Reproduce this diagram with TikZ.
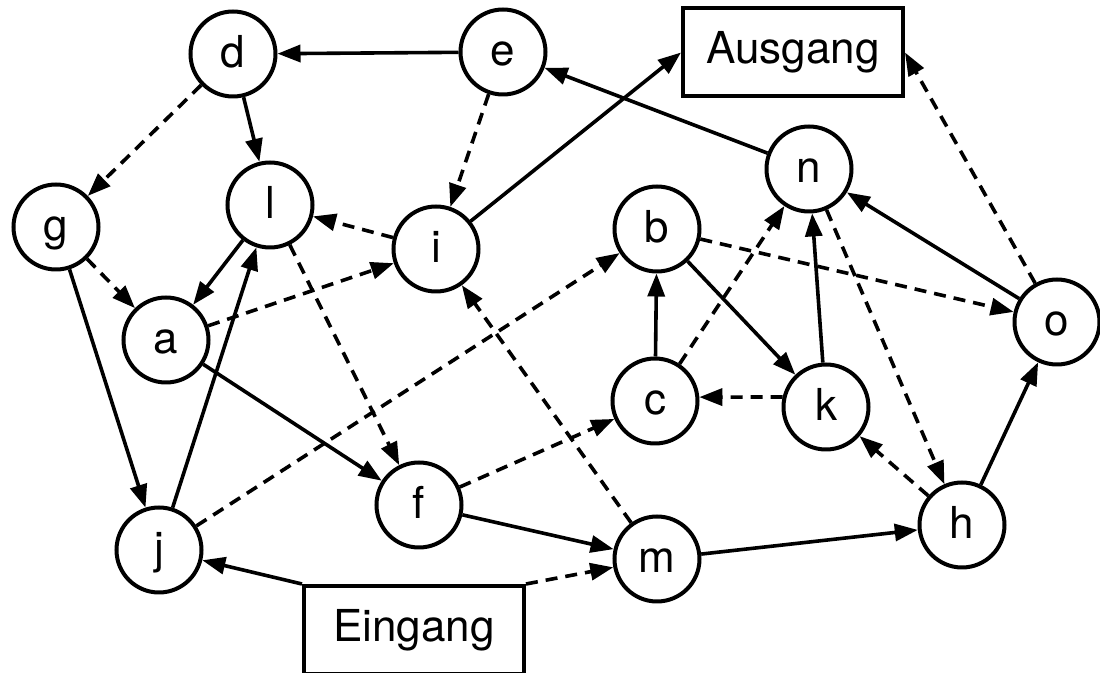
\documentclass[tikz,border=0pt]{standalone}
\usepackage{fontspec}
\setmainfont{TeX Gyre Heros}
\usetikzlibrary{arrows.meta}
\begin{document}
\begin{tikzpicture}[x=0.5pt,y=-0.5pt,
  every node/.style={font=\fontsize{22}{26}\selectfont},
  state/.style={circle,draw,line width=2pt,minimum size=42.5pt,inner sep=0pt,text height=16pt,text depth=2pt},
  port/.style={rectangle,draw,line width=2pt,minimum width=110pt,minimum height=44pt,inner sep=0pt},
  conn/.style={line width=1.8pt,-{Triangle[length=11.5pt,width=8.5pt]}},
  dconn/.style={conn,dash pattern=on 6pt off 4pt}]
\useasboundingbox (0,0) rectangle (1100,673);
% nodes
\node[state] (d) at (233,54) {d};
\node[state] (e) at (503,52) {e};
\node[state] (g) at (56,227) {g};
\node[state] (l) at (270,205) {l};
\node[state] (i) at (436,249) {i};
\node[state] (b) at (657,229) {b};
\node[state] (n) at (809,169) {n};
\node[state] (o) at (1057,322) {o};
\node[state] (a) at (166,340) {a};
\node[state] (c) at (655,401) {c};
\node[state] (k) at (826,407) {k};
\node[state] (j) at (159,550) {j};
\node[state] (f) at (419,505) {f};
\node[state] (m) at (657,559) {m};
\node[state] (h) at (962,525) {h};
\node[port] (aus) at (793,52.5) {Ausgang};
\node[port] (ein) at (414,630) {Eingang};
% solid connectors
\draw[conn] (e) -- (d);
\draw[conn] (d) -- (l);
\draw[conn] (i) -- (aus.west);
\draw[conn] (n) -- (e);
\draw[conn] (g) -- (j);
\draw[conn] (l) -- (a);
\draw[conn] (a) -- (f);
\draw[conn] (j) -- (l);
\draw[conn] (f) -- (m);
\draw[conn] (c) -- (b);
\draw[conn] (b) -- (k);
\draw[conn] (k) -- (n);
\draw[conn] (h) -- (o);
\draw[conn] (o) -- (n);
\draw[conn] (m) -- (h);
\draw[conn] (ein.north west) -- (j);
% dashed connectors
\draw[dconn] (d) -- (g);
\draw[dconn] (e) -- (i);
\draw[dconn] (o) -- (aus.east);
\draw[dconn] (g) -- (a);
\draw[dconn] (i) -- (l);
\draw[dconn] (a) -- (i);
\draw[dconn] (l) -- (f);
\draw[dconn] (j) -- (b);
\draw[dconn] (m) -- (i);
\draw[dconn] (f) -- (c);
\draw[dconn] (b) -- (o);
\draw[dconn] (c) -- (n);
\draw[dconn] (k.167) -- (c.5);
\draw[dconn] (n) -- (h);
\draw[dconn] (h) -- (k);
\draw[dconn] (ein.north east) -- (m);
\end{tikzpicture}
\end{document}
